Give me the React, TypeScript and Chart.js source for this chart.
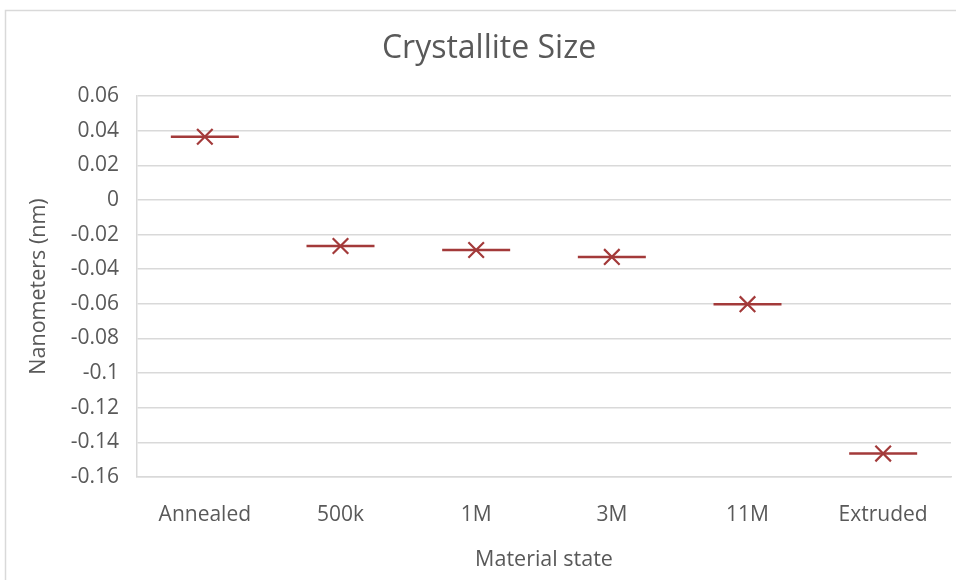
import { useEffect, useRef } from "react";
import { Chart, registerables } from "chart.js";

Chart.register(...registerables);

// Material states along the x axis
const categories = ["Annealed", "500k", "1M", "3M", "11M", "Extruded"];
// Crystallite size change per state (nm)
const crystalliteSize = [0.0365, -0.0266, -0.0289, -0.0329, -0.0602, -0.1465];
// Value axis range and step
const yMin = -0.16;
const yMax = 0.06;
const yStep = 0.02;

const chartTitle = "Crystallite Size";

const FONT = "'Open Sans', 'Noto Sans', sans-serif";
const TEXT = "#595959";
const GRID = "#d9d9d9";
const MARK = "#a33a3a";

// Light frame around the whole chart, plus the chart title centred on the frame
const framePlugin = {
  id: "frame",
  beforeDraw(chart: Chart) {
    const ctx = chart.ctx;
    ctx.save();
    ctx.fillStyle = "#ffffff";
    ctx.fillRect(0, 0, chart.width, chart.height);
    ctx.strokeStyle = GRID;
    ctx.lineWidth = 1.5;
    ctx.strokeRect(5.5, 10.5, 1200, 1200);
    ctx.fillStyle = TEXT;
    ctx.font = `normal 32px ${FONT}`;
    ctx.textAlign = "center";
    ctx.textBaseline = "middle";
    ctx.fillText(chartTitle, 489, 49);
    ctx.restore();
  },
};

export default function App() {
  const canvasRef = useRef<HTMLCanvasElement | null>(null);

  useEffect(() => {
    document.body.style.margin = "0";
    const canvas = canvasRef.current;
    if (!canvas) return;

    const chart = new Chart(canvas, {
      type: "line",
      data: {
        labels: categories,
        datasets: [
          {
            data: crystalliteSize,
            showLine: false,
            pointStyle: "line",
            pointRadius: 34,
            pointBorderWidth: 2.5,
            borderColor: MARK,
            backgroundColor: MARK,
          },
          {
            data: crystalliteSize,
            showLine: false,
            pointStyle: "crossRot",
            pointRadius: 11,
            pointBorderWidth: 2.2,
            borderColor: MARK,
            backgroundColor: MARK,
          },
        ],
      },
      options: {
        responsive: false,
        animation: false,
        events: [],
        devicePixelRatio: 1,
        layout: { autoPadding: false, padding: { left: 0, right: 5, top: 96, bottom: 0 } },
        plugins: {
          legend: { display: false },
          tooltip: { enabled: false },
          title: { display: false },
        },
        scales: {
          x: {
            type: "category",
            offset: true,
            grid: { display: false },
            border: { display: true, color: GRID, width: 1.5 },
            ticks: {
              color: TEXT,
              font: { family: FONT, size: 21 },
              padding: 17.5,
              maxRotation: 0,
            },
            title: {
              display: true,
              text: "Material state",
              color: TEXT,
              font: { family: FONT, size: 21.5 },
              padding: { top: 0, bottom: 7.5 },
            },
            afterFit(scale: any) {
              scale.height = 103;
              scale.paddingLeft = 0;
              scale.paddingRight = 0;
            },
          },
          y: {
            min: yMin,
            max: yMax,
            grid: { color: GRID, lineWidth: 1.5, drawTicks: false },
            border: { display: true, color: GRID, width: 1.5 },
            ticks: {
              stepSize: yStep,
              color: TEXT,
              font: { family: FONT, size: 21 },
              padding: 18,
              callback: (v: any) => String(Number(Number(v).toFixed(2))),
            },
            title: {
              display: true,
              text: "Nanometers (nm)",
              color: TEXT,
              font: { family: FONT, size: 21.5 },
              padding: { top: 26, bottom: 0 },
            },
            afterFit(scale: any) {
              scale.width = 137;
              scale.paddingTop = 0;
              scale.paddingBottom = 0;
            },
          },
        },
      },
      plugins: [framePlugin],
    });

    return () => chart.destroy();
  }, []);

  return (
    <div style={{ width: 956, height: 580 }}>
      <canvas ref={canvasRef} width={956} height={580} />
    </div>
  );
}
